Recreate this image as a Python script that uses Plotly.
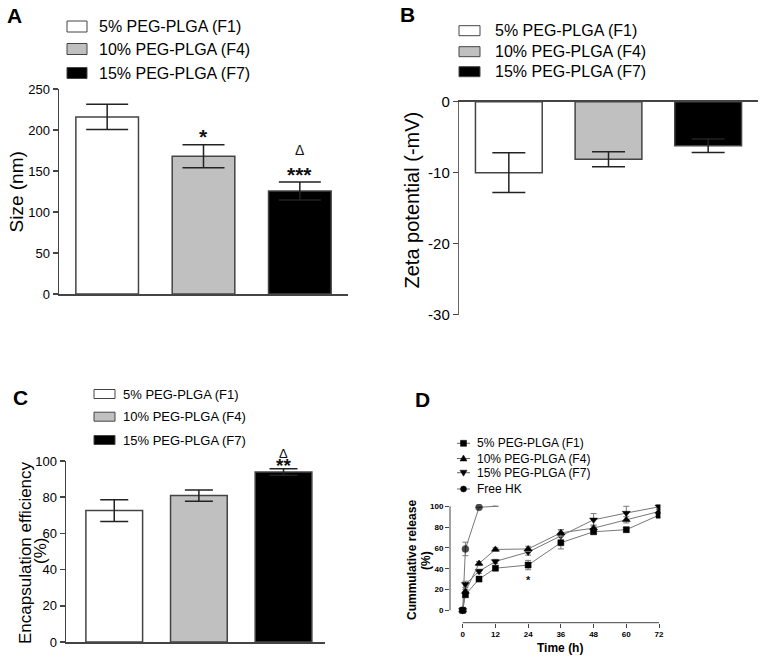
import plotly.graph_objects as go

W, H = 763, 664
FONT = "Arial, Liberation Sans, sans-serif"
AX = "#444444"

# ---------------- data ----------------
formulations = ["5% PEG-PLGA (F1)", "10% PEG-PLGA (F4)", "15% PEG-PLGA (F7)"]
bar_colors = ["#ffffff", "#c0c0c0", "#000000"]

size_nm = [216, 168, 125.5]
size_err = [15.5, 14, 11]
size_sig = ["", "*", "***"]
size_delta = ["", "", "Δ"]

zeta_mv = [-10.0, -8.1, -6.2]
zeta_err = [2.8, 1.05, 0.95]

ee_pct = [72.6, 80.9, 93.9]
ee_err = [6.0, 3.1, 1.8]
ee_sig = ["", "", "**"]
ee_delta = ["", "", "Δ"]

time_h = [0, 1, 6, 12, 24, 36, 48, 60, 72]
rel_f1 = [0, 15, 30, 40.5, 43.5, 65, 75.5, 77.5, 91.5]
rel_f1_err = [0, 2, 2, 2, 4.5, 6, 2, 2, 2]
rel_f4 = [0, 18, 45, 58.5, 59, 74.5, 79, 87, 95]
rel_f4_err = [0, 2, 2, 1.5, 2.5, 3, 3, 3, 2]
rel_f7 = [0, 25, 37.5, 47, 56, 71.5, 87, 93.5, 99.5]
rel_f7_err = [0, 3, 2, 2, 3, 6, 6, 6.5, 2]
hk_time = [0, 1, 6, 12]
rel_hk = [0, 59, 99, 100]
rel_hk_err = [0, 6.5, 0, 0]
release_names = ["5% PEG-PLGA (F1)", "10% PEG-PLGA (F4)", "15% PEG-PLGA (F7)", "Free HK"]
release_sig_time = [24]
release_sig_val = [31.5]
release_sig = ["*"]


def px(x):
    return x / W


def py(y):
    return 1 - y / H


fig = go.Figure()

# ---------------- bar panels ----------------
def add_bars(vals, errs, xa, ya, capw, bw):
    fig.add_trace(go.Bar(
        x=formulations, y=vals, width=bw,
        marker=dict(color=bar_colors, line=dict(color=AX, width=1.5)),
        error_y=dict(type="data", array=errs, color="#222222", thickness=1.5, width=capw),
        xaxis=xa, yaxis=ya, showlegend=False, hoverinfo="skip"))

add_bars(size_nm, size_err, "x", "y", 21, 0.65)
add_bars(zeta_mv, zeta_err, "x2", "y2", 16.5, 0.67)
add_bars(ee_pct, ee_err, "x3", "y3", 14, 0.67)

# ---------------- release panel ----------------
series = [
    (hk_time, rel_hk, rel_hk_err, "circle", [7, 7, 7, 0]),
    (time_h, rel_f7, rel_f7_err, "triangle-down", 7),
    (time_h, rel_f4, rel_f4_err, "triangle-up", 7),
    (time_h, rel_f1, rel_f1_err, "square", 6),
]
for t, v, e, sym, ms in series:
    fig.add_trace(go.Scatter(
        x=t, y=v, mode="lines+markers",
        line=dict(color="#777777", width=1),
        marker=dict(symbol=sym, size=ms, color="#000000", line=dict(color="#000000", width=0.5)),
        error_y=dict(type="data", array=e, color="#7a7a7a", thickness=1, width=3),
        xaxis="x4", yaxis="y4", showlegend=False, hoverinfo="skip"))

annotations = []
shapes = []

# significance marks
for i, (s, d) in enumerate(zip(size_sig, size_delta)):
    top = size_nm[i] + size_err[i]
    if s:
        annotations.append(dict(x=formulations[i], y=top, xref="x", yref="y", text=s,
                                showarrow=False, yanchor="middle", yshift=8,
                                font=dict(size=21, family=FONT, weight="bold", color="#111")))
    if d:
        annotations.append(dict(x=formulations[i], y=top, xref="x", yref="y", text=d,
                                showarrow=False, yanchor="middle", yshift=32,
                                font=dict(size=14, family=FONT, color="#111")))
for i, (s, d) in enumerate(zip(ee_sig, ee_delta)):
    top = ee_pct[i] + ee_err[i]
    if s or d:
        txt = ("<span style='font-size:13px'>%s</span><br>"
               "<span style='font-size:19px'><b>%s</b></span>" % (d, s))
        annotations.append(dict(x=formulations[i], y=top, xref="x3", yref="y3", text=txt,
                                showarrow=False, yanchor="bottom", yshift=-9,
                                font=dict(size=11, family=FONT, color="#111")))
for t, v, s in zip(release_sig_time, release_sig_val, release_sig):
    annotations.append(dict(x=t, y=v, xref="x4", yref="y4", text=s, showarrow=False,
                            yanchor="middle", yshift=-2,
                            font=dict(size=11, family=FONT, weight="bold", color="#111")))

# panel letters
for lab, x, y in [("A", 14.5, 15.5), ("B", 407, 15), ("C", 20, 397), ("D", 422, 399.5)]:
    annotations.append(dict(x=px(x), y=py(y), xref="paper", yref="paper", text=lab,
                            showarrow=False, xanchor="center", yanchor="middle",
                            font=dict(size=21, family=FONT, weight="bold", color="#000")))

# axis titles
def vtitle(text, x, y, size, bold=False):
    f = dict(size=size, family=FONT, color="#000")
    if bold:
        f["weight"] = "bold"
    annotations.append(dict(x=px(x), y=py(y), xref="paper", yref="paper", text=text,
                            showarrow=False, textangle=-90, xanchor="center",
                            yanchor="middle", font=f))

vtitle("Size (nm)", 15.5, 192, 19)
vtitle("Zeta potential (-mV)", 411.5, 200, 20)
vtitle("Encapsulation efficiency", 25, 553, 17)
vtitle("(%)", 40, 551, 17)
vtitle("Cummulative release", 412, 560, 12, True)
vtitle("(%)", 426, 560, 12, True)
annotations.append(dict(x=px(560), y=py(648), xref="paper", yref="paper", text="Time (h)",
                        showarrow=False, xanchor="center", yanchor="middle",
                        font=dict(size=12, family=FONT, weight="bold", color="#000")))

# bar legends (box + text)
def bar_legend(bx0, bx1, bh, tx, rows, fsize):
    for name, col, ry in zip(formulations, bar_colors, rows):
        shapes.append(dict(type="rect", xref="paper", yref="paper",
                           x0=px(bx0), x1=px(bx1), y0=py(ry + bh / 2), y1=py(ry - bh / 2),
                           fillcolor=col, line=dict(color=AX, width=1)))
        annotations.append(dict(x=px(tx - 2), y=py(ry), xref="paper", yref="paper", text=name,
                                showarrow=False, xanchor="left", yanchor="middle",
                                font=dict(size=fsize, family=FONT, color="#000")))

bar_legend(67, 87, 11, 99, [26.5, 49, 73], 16)
bar_legend(459, 480, 10, 495, [30.7, 51.7, 71.7], 16)
bar_legend(94, 115, 9, 123, [394, 416.7, 440], 13)

# release legend
leg_rows = [443.3, 458.5, 472.7, 489]
leg_syms = [
    dict(type="rect", x0=-3, x1=3, y0=-3, y1=3),
    dict(type="path", path="M-3.5,-2.5 L3.5,-2.5 L0,3.5 Z"),
    dict(type="path", path="M-3.5,2.5 L3.5,2.5 L0,-3.5 Z"),
    dict(type="circle", x0=-3, x1=3, y0=-3, y1=3),
]
for name, ry, sym in zip(release_names, leg_rows, leg_syms):
    shapes.append(dict(type="line", xref="paper", yref="paper", x0=px(457), x1=px(470),
                       y0=py(ry), y1=py(ry), line=dict(color="#666666", width=1)))
    s = dict(xref="paper", yref="paper", xsizemode="pixel", ysizemode="pixel",
             xanchor=px(463.5), yanchor=py(ry), fillcolor="#000", line=dict(color="#000", width=0.5))
    s.update(sym)
    shapes.append(s)
    annotations.append(dict(x=px(475), y=py(ry), xref="paper", yref="paper", text=name,
                            showarrow=False, xanchor="left", yanchor="middle",
                            font=dict(size=12, family=FONT, color="#000")))

# release axis lines (offset style)
shapes.append(dict(type="line", xref="x4 domain", yref="y4", x0=0, x1=0, y0=0, y1=100,
                   line=dict(color=AX, width=1)))
shapes.append(dict(type="line", xref="x4", yref="y4 domain", x0=0, x1=72, y0=0, y1=0,
                   line=dict(color=AX, width=1)))

common_x = dict(showgrid=False, zeroline=False, showticklabels=False, ticks="",
                showline=True, linecolor=AX, linewidth=1.5, fixedrange=True, automargin=False)
common_y = dict(showgrid=False, zeroline=False, ticks="outside", ticklen=5, tickwidth=1.5,
                tickcolor=AX, showline=True, linecolor=AX, linewidth=1.5, fixedrange=True,
                automargin=False)

fig.update_layout(
    width=W, height=H, margin=dict(l=0, r=0, t=0, b=0, pad=0, autoexpand=False),
    paper_bgcolor="white", plot_bgcolor="white",
    font=dict(family=FONT, color="#000"),
    showlegend=False,
    xaxis=dict(common_x, domain=[px(59), px(348)], range=[-0.5, 2.5], anchor="y"),
    yaxis=dict(common_y, domain=[py(294), py(89)], range=[0, 250],
               tickvals=[0, 50, 100, 150, 200, 250], tickfont=dict(size=13), anchor="x"),
    xaxis2=dict(common_x, domain=[px(459), px(758)], range=[-0.5, 2.5], anchor="y2", side="top"),
    yaxis2=dict(common_y, domain=[py(314.7), py(101.7)], range=[-30, 0],
                tickvals=[0, -10, -20, -30], ticktext=["0", "-10", "-20", "-30"],
                tickfont=dict(size=15), anchor="x2", linecolor="#666", linewidth=1.2),
    xaxis3=dict(common_x, domain=[px(66), px(325)], range=[-0.57, 2.49], anchor="y3"),
    yaxis3=dict(common_y, domain=[py(642), py(461)], range=[0, 100],
                tickvals=[0, 20, 40, 60, 80, 100], tickfont=dict(size=13), anchor="x3"),
    xaxis4=dict(showgrid=False, zeroline=False, showline=False, domain=[px(450), px(660.4)],
                range=[-4.65, 72.5], tickvals=[0, 12, 24, 36, 48, 60, 72], ticks="outside",
                ticklen=4, tickwidth=1, tickcolor=AX, anchor="y4", fixedrange=True,
                automargin=False, tickfont=dict(size=8, weight="bold")),
    yaxis4=dict(showgrid=False, zeroline=False, showline=False, domain=[py(622.7), py(504)],
                range=[-11.9, 102.2], tickvals=[0, 20, 40, 60, 80, 100], ticks="outside",
                ticklen=4, tickwidth=1, tickcolor=AX, anchor="x4", fixedrange=True,
                automargin=False, tickfont=dict(size=8, weight="bold")),
    annotations=annotations,
    shapes=shapes,
)

fig.write_html(
    "out.html",
    config={"displayModeBar": False, "staticPlot": True},
    post_script="document.body.style.margin='0';document.body.style.padding='0';"
                "document.documentElement.style.overflow='hidden';",
)
